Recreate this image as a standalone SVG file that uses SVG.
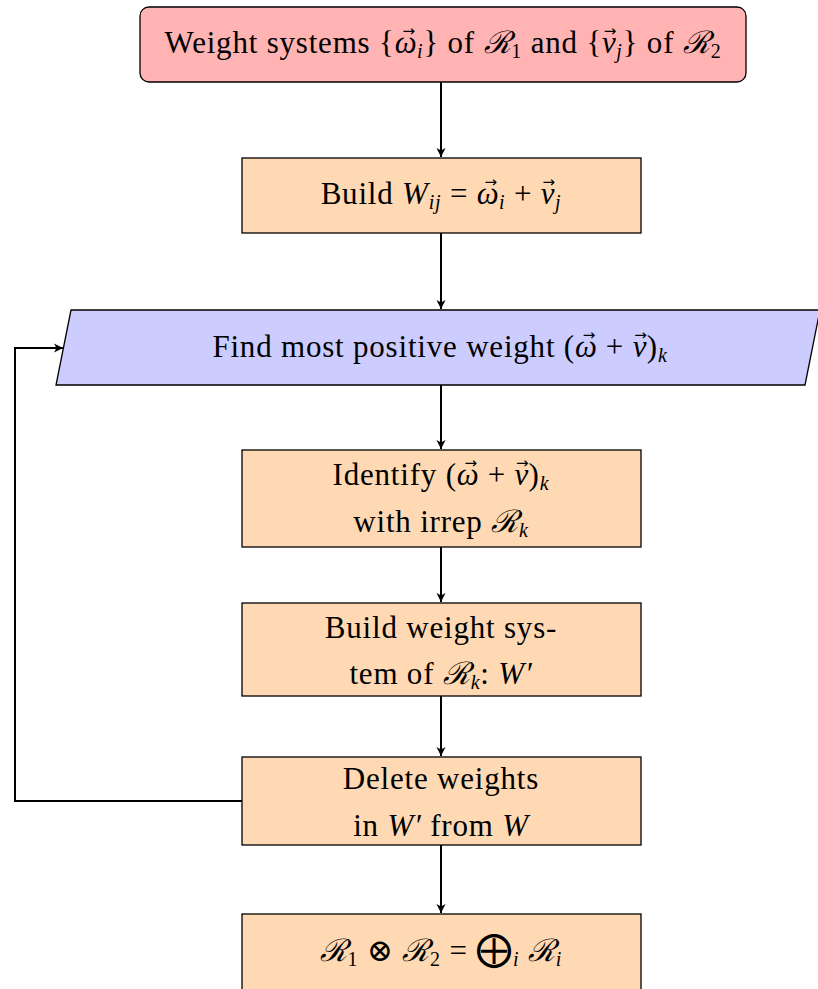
<svg xmlns="http://www.w3.org/2000/svg" width="818" height="989" viewBox="0 0 818 989">
<style>
text{font-family:"Liberation Serif","DejaVu Serif",serif;font-size:31px;letter-spacing:0.8px;fill:#000;text-anchor:middle}
.i{font-style:italic}
.s{font-size:20px;font-style:italic}
.n{font-size:20px}
.v{font-size:15px;font-family:"DejaVu Sans",sans-serif;font-style:normal;letter-spacing:0}
.box{fill:#ffd9b3;stroke:#000;stroke-width:1.3}
.c{fill:none;stroke:#000;stroke-width:2}
</style>
<defs>
<marker id="a" markerWidth="12" markerHeight="12" refX="10" refY="6" orient="auto" markerUnits="userSpaceOnUse">
<path d="M1,1.5 L10,6 L1,10.5 L3.5,6 Z" fill="#000"/>
</marker>
</defs>
<g id="connectors">
<line class="c" x1="441" y1="82" x2="441" y2="157" marker-end="url(#a)"/>
<line class="c" x1="441" y1="233" x2="441" y2="309" marker-end="url(#a)"/>
<line class="c" x1="441" y1="385" x2="441" y2="449" marker-end="url(#a)"/>
<line class="c" x1="441" y1="547" x2="441" y2="602" marker-end="url(#a)"/>
<line class="c" x1="441" y1="696" x2="441" y2="756" marker-end="url(#a)"/>
<line class="c" x1="441" y1="845" x2="441" y2="913" marker-end="url(#a)"/>
<polyline class="c" points="242,801 15,801 15,348 63,348" marker-end="url(#a)"/>
</g>
<g id="n1">
<rect x="140" y="7" width="606" height="75" rx="9" fill="#ffb3b3" stroke="#000" stroke-width="1.3"/>
<text x="443" y="53">Weight systems {<tspan class="i">ω</tspan><tspan class="v" dx="-15" dy="-17">→</tspan><tspan class="s" dx="2" dy="22">i</tspan><tspan dy="-5">} of </tspan><tspan class="i">ℛ</tspan><tspan class="n" dy="5">1</tspan><tspan dy="-5"> and {</tspan><tspan class="i">ν</tspan><tspan class="v" dx="-13" dy="-17">→</tspan><tspan class="s" dx="0" dy="22">j</tspan><tspan dy="-5">} of </tspan><tspan class="i">ℛ</tspan><tspan class="n" dy="5">2</tspan></text>
</g>
<g id="n2">
<rect class="box" x="242" y="158" width="399" height="75"/>
<text x="441" y="204">Build <tspan class="i">W</tspan><tspan class="s" dy="5">ij</tspan><tspan dy="-5">  =  </tspan><tspan class="i">ω</tspan><tspan class="v" dx="-15" dy="-17">→</tspan><tspan class="s" dx="2" dy="22">i</tspan><tspan dy="-5"> + </tspan><tspan class="i">ν</tspan><tspan class="v" dx="-13" dy="-17">→</tspan><tspan class="s" dx="0" dy="22">j</tspan></text>
</g>
<g id="n3">
<polygon points="71,310 820,310 805,385 56,385" fill="#ccccff" stroke="#000" stroke-width="1.3"/>
<text x="440" y="357">Find most positive weight (<tspan class="i">ω</tspan><tspan class="v" dx="-15" dy="-17">→</tspan><tspan dx="2" dy="17"> + </tspan><tspan class="i">ν</tspan><tspan class="v" dx="-13" dy="-17">→</tspan><tspan dx="0" dy="17">)</tspan><tspan class="s" dy="5">k</tspan></text>
</g>
<g id="n4">
<rect class="box" x="242" y="450" width="399" height="97"/>
<text x="441" y="485">Identify (<tspan class="i">ω</tspan><tspan class="v" dx="-15" dy="-17">→</tspan><tspan dx="2" dy="17"> + </tspan><tspan class="i">ν</tspan><tspan class="v" dx="-13" dy="-17">→</tspan><tspan dx="0" dy="17">)</tspan><tspan class="s" dy="5">k</tspan></text>
<text x="441" y="532">with irrep <tspan class="i">ℛ</tspan><tspan class="s" dy="5">k</tspan></text>
</g>
<g id="n5">
<rect class="box" x="242" y="603" width="399" height="93"/>
<text x="441" y="638">Build weight sys-</text>
<text x="441" y="684">tem of <tspan class="i">ℛ</tspan><tspan class="s" dy="5">k</tspan><tspan dy="-5">: </tspan><tspan class="i">W′</tspan></text>
</g>
<g id="n6">
<rect class="box" x="242" y="757" width="399" height="88"/>
<text x="441" y="789">Delete weights</text>
<text x="441" y="836">in <tspan class="i">W′</tspan> from <tspan class="i">W</tspan></text>
</g>
<g id="n7">
<rect class="box" x="242" y="914" width="399" height="80"/>
<text x="441" y="961"><tspan class="i">ℛ</tspan><tspan class="n" dy="5">1</tspan><tspan dy="-5"> ⊗ </tspan><tspan class="i">ℛ</tspan><tspan class="n" dy="5">2</tspan><tspan dy="-5">  =  </tspan><tspan font-size="36">⨁</tspan><tspan class="s" dy="5">i</tspan><tspan dy="-5"> </tspan><tspan class="i">ℛ</tspan><tspan class="s" dy="5">i</tspan></text>
</g>
</svg>
